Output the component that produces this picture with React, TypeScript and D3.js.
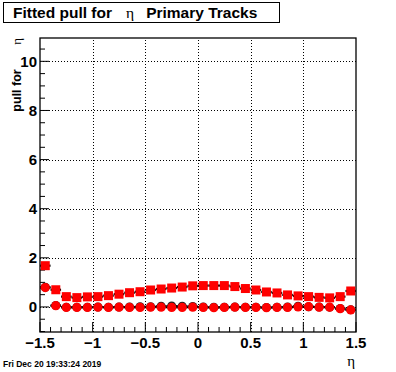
import React from 'react';
import * as d3 from 'd3';

// eta bin centres (bin width 0.1)
const etaBins = [
  -1.45, -1.35, -1.25, -1.15, -1.05, -0.95, -0.85, -0.75, -0.65, -0.55,
  -0.45, -0.35, -0.25, -0.15, -0.05, 0.05, 0.15, 0.25, 0.35, 0.45,
  0.55, 0.65, 0.75, 0.85, 0.95, 1.05, 1.15, 1.25, 1.35, 1.45,
];

// fitted sigma of pull (squares)
const pullSigma = [
  1.68, 0.70, 0.42, 0.38, 0.41, 0.42, 0.46, 0.52, 0.58, 0.62,
  0.69, 0.73, 0.77, 0.81, 0.86, 0.87, 0.87, 0.87, 0.83, 0.75,
  0.69, 0.61, 0.57, 0.49, 0.45, 0.42, 0.39, 0.37, 0.42, 0.65,
];

// fitted mean of pull (circles)
const pullMean = [
  0.79, 0.05, -0.02, -0.02, -0.02, -0.01, -0.02, -0.01, -0.02, -0.02,
  -0.01, -0.01, -0.02, -0.02, -0.01, -0.02, -0.03, -0.02, -0.01, -0.02,
  -0.02, -0.03, -0.02, -0.02, 0.00, 0.01, -0.01, -0.01, -0.07, -0.12,
];

// second (black) mean series, mostly hidden under the red one
const pullMeanRef = [
  0.80, 0.06, -0.01, -0.01, -0.01, 0.00, -0.01, 0.00, 0.00, 0.01,
  0.01, 0.03, 0.04, 0.03, 0.02, 0.00, -0.01, -0.01, 0.00, -0.01,
  -0.01, -0.02, -0.01, 0.00, 0.03, 0.01, 0.00, -0.01, -0.06, -0.11,
];

const xMajor = [-1.5, -1, -0.5, 0, 0.5, 1, 1.5];
const yMajor = [0, 2, 4, 6, 8, 10];

const binWidth = 0.1;
const W = 396;
const H = 372;
const sans = "'Liberation Sans', Arial, Helvetica, sans-serif";
const serif = "'Liberation Serif', 'DejaVu Serif', serif";

export default function App() {
  const x = d3.scaleLinear().domain([-1.5, 1.5]).range([40, 356]);
  const y = d3.scaleLinear().domain([-1.02, 10.95]).range([332, 38]);
  const [x0, x1] = x.range();
  const [y0, y1] = y.range();

  const xMinor = d3.range(-15, 16).map(i => i / 10);
  const yMinor = d3.range(-2, 22).map(i => i / 2);
  const fmt = d3.format('');

  return (
    <svg width={W} height={H} style={{ position: 'absolute', left: 0, top: 0, background: '#fff' }}>
      <rect width={W} height={H} fill="#fff" />

      {/* title box */}
      <rect x={3.5} y={2.5} width={276} height={20} fill="#fff" stroke="#000" strokeWidth={1} />
      <text x={13} y={18} fontFamily={sans} fontWeight="bold" fontSize={15.5}>
        Fitted pull for
        <tspan fontFamily={serif} fontWeight="normal" dx={14}>η</tspan>
        <tspan dx={12}>Primary Tracks</tspan>
      </text>

      {/* grid */}
      <g stroke="#000" strokeWidth={1} strokeDasharray="1,2">
        {xMajor.filter(v => v > -1.5 && v < 1.5).map(v => (
          <line key={'gx' + v} x1={Math.round(x(v)) + 0.5} x2={Math.round(x(v)) + 0.5} y1={y0} y2={y1} />
        ))}
        {yMajor.map(v => (
          <line key={'gy' + v} x1={x0} x2={x1} y1={Math.round(y(v)) + 0.5} y2={Math.round(y(v)) + 0.5} />
        ))}
      </g>

      {/* frame */}
      <rect x={x0} y={y1} width={x1 - x0} height={y0 - y1} fill="none" stroke="#000" strokeWidth={1.3} />

      {/* ticks */}
      <g stroke="#000" strokeWidth={1}>
        {xMinor.map(v => {
          const major = Math.abs(v * 2 - Math.round(v * 2)) < 1e-6;
          return (
            <line key={'tx' + v} x1={x(v)} x2={x(v)} y1={y0} y2={y0 - (major ? 10 : 5)} />
          );
        })}
        {yMinor.map(v => {
          const major = Math.abs(v / 2 - Math.round(v / 2)) < 1e-6;
          return (
            <line key={'ty' + v} x1={x0} x2={x0 + (major ? 9 : 5)} y1={y(v)} y2={y(v)} />
          );
        })}
      </g>

      {/* tick labels */}
      <g fontFamily={sans} fontWeight="bold" fontSize={15}>
        {xMajor.map(v => (
          <text key={'lx' + v} x={x(v)} y={348} textAnchor="middle">{fmt(v)}</text>
        ))}
        {yMajor.map(v => (
          <text key={'ly' + v} x={37} y={y(v) + 5.5} textAnchor="end">{fmt(v)}</text>
        ))}
      </g>

      {/* axis titles */}
      <text x={355} y={366} fontFamily={serif} fontSize={15} textAnchor="end">η</text>
      <text transform={`translate(21,${y1}) rotate(-90)`} fontFamily={sans} fontWeight="bold" fontSize={12.5} textAnchor="end">
        pull for <tspan fontFamily={serif} fontWeight="normal" fontSize={13} dx={21}>η</tspan>
      </text>

      {/* black reference series */}
      <g>
        {etaBins.map((c, i) => (
          <line key={'eb' + i} x1={x(c - binWidth / 2)} x2={x(c + binWidth / 2)} y1={y(pullMeanRef[i])} y2={y(pullMeanRef[i])} stroke="#000" strokeWidth={2} />
        ))}
        {etaBins.map((c, i) => (
          <circle key={'mb' + i} cx={x(c)} cy={y(pullMeanRef[i])} r={4.5} fill="#222" />
        ))}
      </g>

      {/* mean series */}
      <g>
        {etaBins.map((c, i) => (
          <line key={'em' + i} x1={x(c - binWidth / 2)} x2={x(c + binWidth / 2)} y1={y(pullMean[i])} y2={y(pullMean[i])} stroke="#000" strokeWidth={2} />
        ))}
        {etaBins.map((c, i) => (
          <circle key={'mm' + i} cx={x(c)} cy={y(pullMean[i])} r={4.6} fill="#f00" />
        ))}
      </g>

      {/* sigma series */}
      <g>
        {etaBins.map((c, i) => (
          <line key={'es' + i} x1={x(c - binWidth / 2)} x2={x(c + binWidth / 2)} y1={y(pullSigma[i])} y2={y(pullSigma[i])} stroke="#000" strokeWidth={2.2} />
        ))}
        {etaBins.map((c, i) => (
          <rect key={'ms' + i} x={x(c) - 4.5} y={y(pullSigma[i]) - 4.5} width={9} height={9} fill="#f00" />
        ))}
      </g>

      {/* date stamp */}
      <text x={3} y={367} fontFamily={sans} fontSize={8.5} fontWeight="bold">Fri Dec 20 19:33:24 2019</text>
    </svg>
  );
}
